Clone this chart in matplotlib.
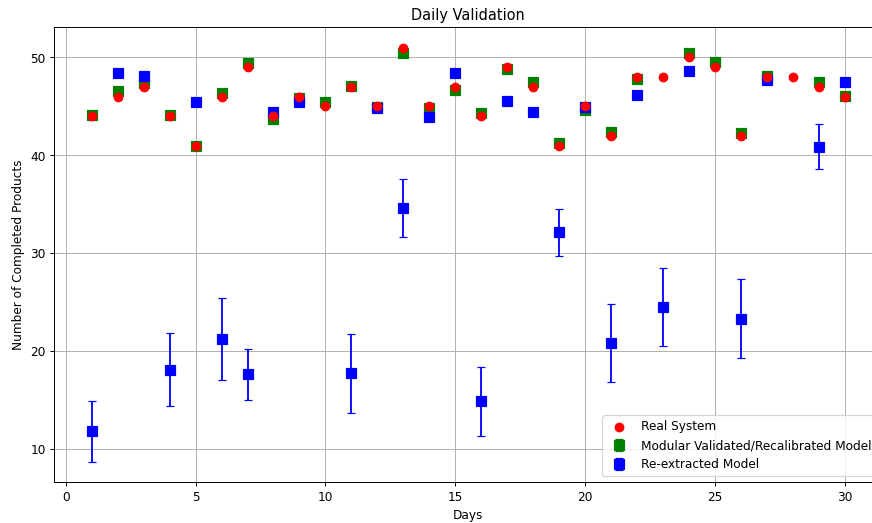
import numpy as np
import matplotlib
matplotlib.use("Agg")
import matplotlib.pyplot as plt

nan = np.nan
days = np.arange(1, 31)

real = [44, 46, 47, 44, 41, 46, 49, 44, 46, 45, 47, 45, 51, 45, 47,
        44, 49, 47, 41, 45, 42, 48, 48, 50, 49, 42, 48, 48, 47, 46]

modular = [44.1, 46.6, 47.4, 44.1, 41.0, 46.4, 49.4, 43.7, 45.9, 45.5,
           47.1, 44.9, 50.5, 44.8, 46.7, 44.3, 48.8, 47.5, 41.3, 44.6,
           42.4, 47.8, nan, 50.5, 49.5, 42.3, 48.1, nan, 47.5, 46.1]
modular_err = [0.3] * 30

reextracted = [11.8, 48.45, 48.1, 18.1, 45.5, 21.2, 17.6, 44.4, 45.5, nan,
               17.7, 44.85, 34.6, 43.9, 48.4, 14.85, 45.6, 44.4, 32.15, 44.9,
               20.8, 46.2, 24.5, 48.6, nan, 23.3, 47.7, nan, 40.85, 47.5]
reextracted_err = [3.1, 0.3, 0.4, 3.75, 0.3, 4.2, 2.6, 0.3, 0.3, 0,
                   4.0, 0.3, 3.0, 0.3, 0.3, 3.55, 0.3, 0.3, 2.4, 0.3,
                   4.0, 0.3, 3.95, 0.3, 0, 4.05, 0.3, 0, 2.3, 0.3]

fig = plt.figure(figsize=(10, 6), dpi=87.2)
# axes run past the right edge, like the cropped original
ax = fig.add_axes([0.062, 0.078, 0.95, 0.87])

ax.errorbar(days, modular, yerr=modular_err, fmt='s', color='green',
            markersize=8, capsize=3, label='Modular Validated/Recalibrated Model')
ax.errorbar(days, reextracted, yerr=reextracted_err, fmt='s', color='blue',
            markersize=8, capsize=3, label='Re-extracted Model')
ax.scatter(days, real, color='red', s=50, zorder=3, label='Real System')

ax.set_title('Daily Validation')
ax.set_xlabel('Days')
ax.set_ylabel('Number of Completed Products')
ax.grid(True)
ax.legend(loc='lower right')

fig.savefig('out.png', dpi=87.2)
